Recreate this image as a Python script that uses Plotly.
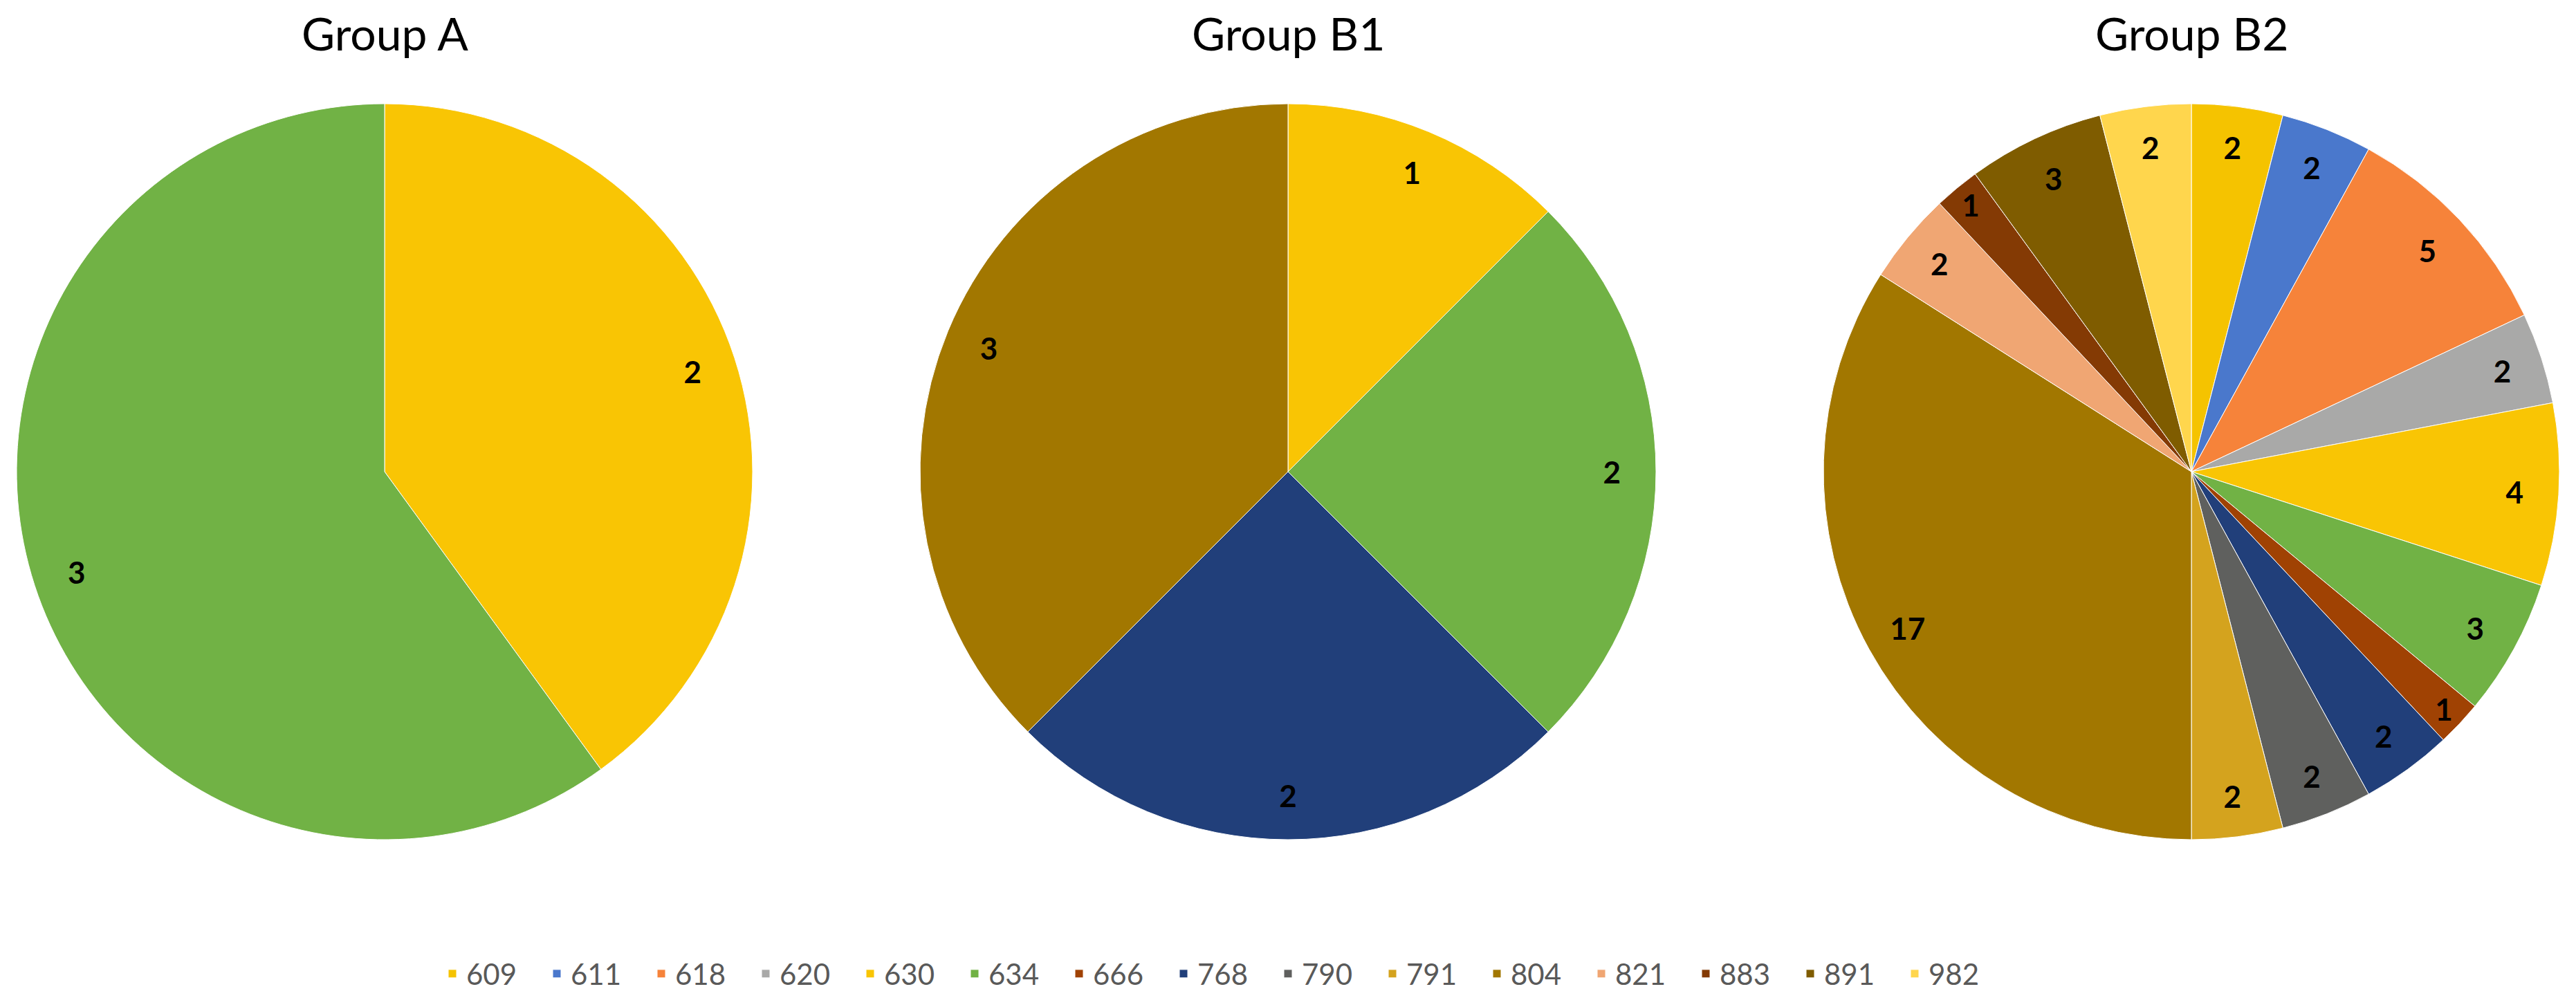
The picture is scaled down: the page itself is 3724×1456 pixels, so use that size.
import plotly.graph_objects as go

# ---------------- data ----------------
categories = ["609", "611", "618", "620", "630", "634", "666", "768",
              "790", "791", "804", "821", "883", "891", "982"]
cat_colors = ["#F5C300", "#4A78CC", "#F6833A", "#A9A9A8", "#F9C504", "#71B245",
              "#A04203", "#213F7A", "#5F605E", "#D4A31E", "#A27700", "#F0A673",
              "#843A04", "#7F5C00", "#FFD64D"]

group_titles = ["Group A", "Group B1", "Group B2"]

group_a_labels = ["630", "634"]
group_a_values = [2, 3]

group_b1_labels = ["630", "634", "768", "804"]
group_b1_values = [1, 2, 2, 3]

group_b2_labels = categories
group_b2_values = [2, 2, 5, 2, 4, 3, 1, 2, 2, 2, 17, 2, 1, 3, 2]

# ---------------- layout geometry ----------------
W, H = 3724, 1456
OFF = 8  # default page body margin of the html page
centers_x = [556 - OFF, 1862 - OFF, 3168 - OFF]
center_y = 682 - OFF
radius = 532
color_map = dict(zip(categories, cat_colors))

fig = go.Figure()

groups = [
    (group_a_labels, group_a_values),
    (group_b1_labels, group_b1_values),
    (group_b2_labels, group_b2_values),
]

# order: B2 first so the legend follows its category order
order = [2, 0, 1]
for gi in order:
    labels, values = groups[gi]
    cx = centers_x[gi]
    dx = [(cx - radius) / W, (cx + radius) / W]
    dy = [(H - center_y - radius) / H, (H - center_y + radius) / H]
    fig.add_trace(go.Pie(
        labels=labels, values=values,
        marker=dict(colors=[color_map[l] for l in labels],
                    line=dict(color="white", width=1)),
        sort=False, direction="clockwise", rotation=0,
        textinfo="none",
        domain=dict(x=dx, y=dy),
        showlegend=(gi == 2),
        name=group_titles[gi],
    ))
    # transparent ring overlay carrying the value labels near the rim
    fig.add_trace(go.Pie(
        labels=labels, values=values,
        marker=dict(colors=["rgba(0,0,0,0)"] * len(labels),
                    line=dict(width=0)),
        hole=0.76,
        sort=False, direction="clockwise", rotation=0,
        textinfo="value", textposition="inside",
        insidetextorientation="horizontal",
        textfont=dict(family="Lato", size=44, color="black", weight="bold"),
        domain=dict(x=dx, y=dy),
        showlegend=False, hoverinfo="skip",
    ))
    fig.add_annotation(
        text=group_titles[gi], x=cx / W, y=1 - (47 - OFF) / H,
        xref="paper", yref="paper", xanchor="center", yanchor="middle",
        showarrow=False, font=dict(family="Lato", size=66, color="black"),
    )

fig.update_layout(
    width=W, height=H,
    margin=dict(l=0, r=0, t=0, b=0),
    paper_bgcolor="white", plot_bgcolor="white",
    legend=dict(orientation="h", x=(656 - OFF - 22) / W, xanchor="left",
                y=(H - (1408 - OFF)) / H, yanchor="middle",
                font=dict(family="Lato", size=42, color="#595959"),
                entrywidth=106, entrywidthmode="pixels",
                traceorder="normal"),
)

fig.write_html("out.html")
